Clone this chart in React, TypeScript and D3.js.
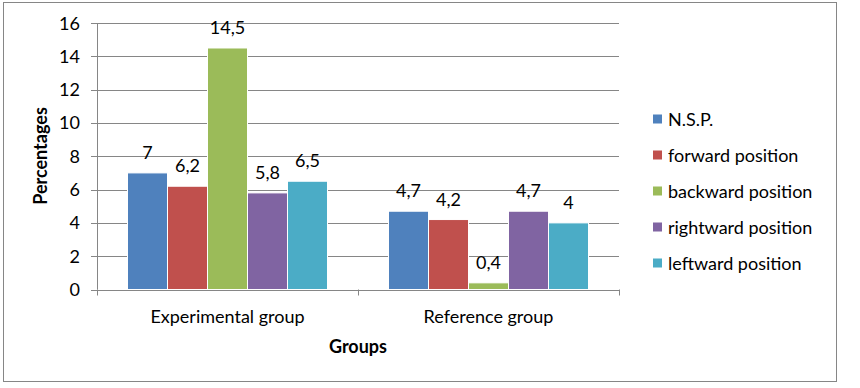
import React from "react";
import * as d3 from "d3";

const categories = ["Experimental group", "Reference group"];
const seriesNames = ["N.S.P.", "forward position", "backward position", "rightward position", "leftward position"];
const experimentalValues = [7, 6.2, 14.5, 5.8, 6.5];
const referenceValues = [4.7, 4.2, 0.4, 4.7, 4];
const yTicks = [0, 2, 4, 6, 8, 10, 12, 14, 16];
const colors = ["#4F81BD", "#C0504D", "#9BBB59", "#8064A2", "#4BACC6"];

const valuesByCategory = [experimentalValues, referenceValues];

const FONT = "Lato, 'Open Sans', sans-serif";
const FS = 18;

export default function App() {
  const W = 860, H = 388;
  const left = 97, right = 619, top = 23, bottom = 289.5;
  const x0 = d3.scaleBand<string>().domain(categories).range([left, right]).paddingInner(0).paddingOuter(0);
  const y = d3.scaleLinear().domain([0, 16]).range([bottom, top]);
  const fmt = (v: number) => String(v).replace(".", ",");
  const grid = "#868686";

  const groupW = 200;
  const barW = groupW / seriesNames.length;
  const barX = (ci: number, si: number) => (x0(categories[ci]) as number) + (x0.bandwidth() - groupW) / 2 + si * barW;

  return (
    <svg width={W} height={H} style={{ position: "absolute", left: 0, top: 0, background: "#fff" }} fontFamily={FONT}>
      <rect x={3.5} y={2.5} width={833} height={379} fill="#fff" stroke="#868686" strokeWidth={1} />
      {yTicks.map((t) => (
        <g key={t}>
          <line x1={left - 6} x2={right} y1={Math.round(y(t)) + 0.5} y2={Math.round(y(t)) + 0.5} stroke={grid} strokeWidth={1} />
          <text x={80} y={y(t) + 6.5} textAnchor="end" fontSize={FS} fill="#000">{t}</text>
        </g>
      ))}
      <line x1={left + 0.5} x2={left + 0.5} y1={top} y2={bottom} stroke={grid} />
      {[0, 1, 2].map((i) => {
        const xx = left + i * x0.bandwidth();
        return <line key={i} x1={Math.round(xx) + 0.5} x2={Math.round(xx) + 0.5} y1={bottom} y2={bottom + 6} stroke={grid} />;
      })}
      {categories.map((c, ci) => (
        <g key={c}>
          {valuesByCategory[ci].map((v, si) => {
            const bx = barX(ci, si);
            return (
              <g key={si}>
                <rect x={bx} y={y(v)} width={barW} height={bottom - y(v)} fill={colors[si]} stroke="#fff" strokeWidth={1} />
                <text x={bx + barW / 2} y={y(v) - 14} textAnchor="middle" fontSize={FS} fill="#000">{fmt(v)}</text>
              </g>
            );
          })}
          <text x={(x0(c) as number) + x0.bandwidth() / 2} y={323} textAnchor="middle" fontSize={FS} fill="#000">{c}</text>
        </g>
      ))}
      <text x={358} y={353} textAnchor="middle" fontSize={FS} fontWeight="bold" fill="#000">Groups</text>
      <text transform={`translate(47,156) rotate(-90)`} textAnchor="middle" fontSize={FS} fontWeight="bold" fill="#000">Percentages</text>
      {seriesNames.map((s, i) => (
        <g key={s}>
          <rect x={653} y={114.5 + i * 36} width={9} height={9} fill={colors[i]} />
          <text x={668} y={125.5 + i * 36} fontSize={FS} fill="#000">{s}</text>
        </g>
      ))}
    </svg>
  );
}
